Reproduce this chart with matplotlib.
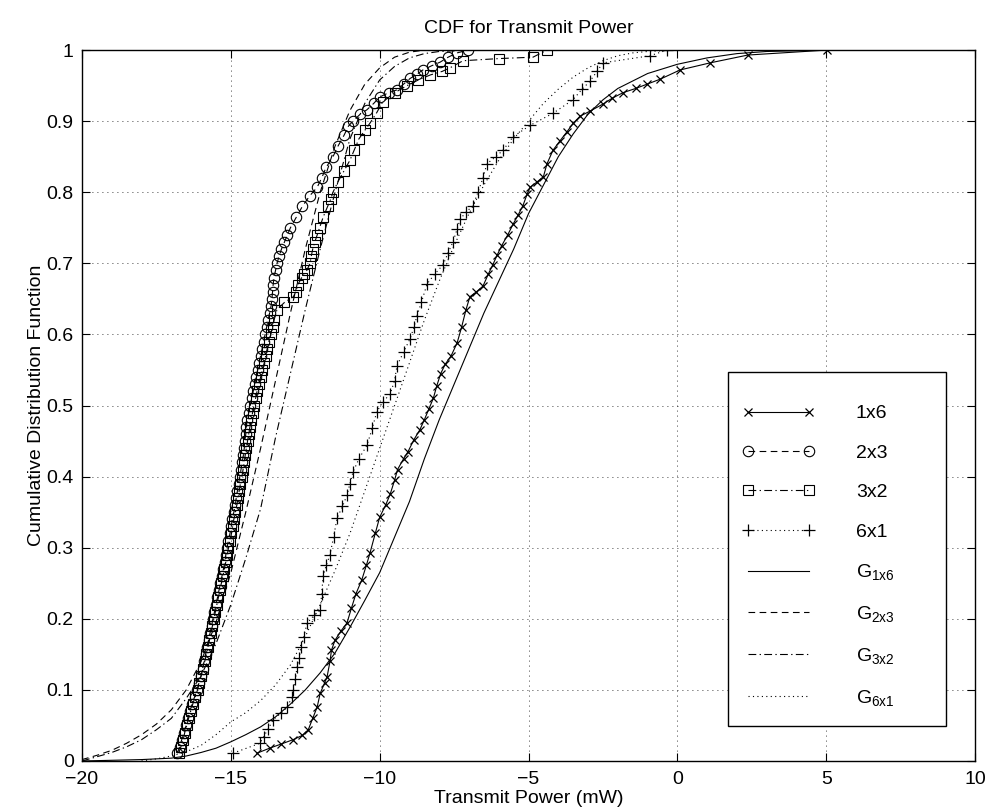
import matplotlib
matplotlib.use("Agg")
import matplotlib.pyplot as plt
from matplotlib.patches import Rectangle

plt.rcParams['font.family'] = ['Liberation Sans', 'DejaVu Sans']
plt.rcParams['mathtext.default'] = 'regular'

# ---------------- data ----------------
x_1x6 = [-14.12, -13.7, -13.3, -12.91, -12.6, -12.4, -12.25, -12.1, -12.0, -11.85,
         -11.77, -11.67, -11.62, -11.5, -11.3, -11.1, -10.95, -10.8, -10.6, -10.45,
         -10.33, -10.15, -10.0, -9.8, -9.65, -9.5, -9.4, -9.2, -9.05, -8.85,
         -8.65, -8.5, -8.35, -8.2, -8.08, -7.95, -7.8, -7.6, -7.4, -7.25,
         -7.1, -6.97, -6.75, -6.53, -6.35, -6.2, -6.05, -5.9, -5.7, -5.52,
         -5.35, -5.19, -5.05, -4.95, -4.7, -4.5, -4.38, -4.18, -3.95, -3.71,
         -3.5, -3.27, -2.94, -2.5, -2.2, -1.83, -1.4, -1.02, -0.58, 0.09,
         1.1, 2.37, 5.03]
y_1x6 = [0.011, 0.018, 0.024, 0.030, 0.036, 0.044, 0.060, 0.076, 0.095, 0.110,
         0.118, 0.140, 0.156, 0.170, 0.183, 0.194, 0.215, 0.235, 0.255, 0.275,
         0.292, 0.320, 0.343, 0.360, 0.375, 0.395, 0.410, 0.425, 0.435, 0.452,
         0.466, 0.480, 0.495, 0.510, 0.528, 0.545, 0.558, 0.570, 0.588, 0.610,
         0.635, 0.653, 0.660, 0.668, 0.685, 0.698, 0.712, 0.725, 0.740, 0.755,
         0.768, 0.781, 0.797, 0.807, 0.815, 0.822, 0.840, 0.859, 0.872, 0.885,
         0.897, 0.907, 0.914, 0.924, 0.932, 0.940, 0.946, 0.952, 0.959, 0.972,
         0.982, 0.993, 1.000]

x_2x3 = [-16.8, -16.72, -16.65, -16.58, -16.5, -16.45, -16.38, -16.3, -16.22, -16.14,
         -16.07, -16.0, -15.95, -15.9, -15.85, -15.8, -15.75, -15.7, -15.65, -15.6,
         -15.55, -15.5, -15.45, -15.4, -15.35, -15.3, -15.25, -15.2, -15.17, -15.13,
         -15.08, -15.03, -14.99, -14.95, -14.9, -14.85, -14.82, -14.78, -14.74, -14.7,
         -14.66, -14.62, -14.58, -14.55, -14.53, -14.5, -14.48, -14.45, -14.4, -14.35,
         -14.3, -14.25, -14.2, -14.15, -14.1, -14.05, -14.0, -13.95, -13.9, -13.85,
         -13.8, -13.75, -13.7, -13.65, -13.62, -13.6, -13.58, -13.55, -13.5, -13.45,
         -13.38, -13.3, -13.2, -13.1, -13.0, -12.8, -12.6, -12.35, -12.1, -11.95,
         -11.8, -11.57, -11.4, -11.2, -11.05, -10.9, -10.65, -10.43, -10.2, -10.0,
         -9.7, -9.42, -9.2, -8.98, -8.75, -8.55, -8.25, -7.97, -7.7, -7.4,
         -7.03]
y_2x3 = [0.011, 0.020, 0.030, 0.040, 0.050, 0.060, 0.070, 0.080, 0.090, 0.100,
         0.110, 0.120, 0.130, 0.140, 0.150, 0.160, 0.170, 0.180, 0.190, 0.200,
         0.210, 0.220, 0.230, 0.240, 0.250, 0.260, 0.270, 0.280, 0.290, 0.300,
         0.310, 0.320, 0.330, 0.340, 0.350, 0.360, 0.370, 0.380, 0.390, 0.400,
         0.410, 0.420, 0.430, 0.440, 0.450, 0.460, 0.470, 0.480, 0.490, 0.500,
         0.510, 0.520, 0.530, 0.540, 0.550, 0.560, 0.570, 0.580, 0.590, 0.600,
         0.610, 0.620, 0.630, 0.640, 0.650, 0.660, 0.670, 0.680, 0.690, 0.700,
         0.710, 0.720, 0.730, 0.740, 0.750, 0.765, 0.780, 0.795, 0.807, 0.820,
         0.835, 0.850, 0.865, 0.880, 0.893, 0.900, 0.910, 0.916, 0.925, 0.934,
         0.940, 0.944, 0.952, 0.960, 0.966, 0.972, 0.978, 0.983, 0.990, 0.996,
         1.000]

x_3x2 = [-16.75, -16.68, -16.6, -16.55, -16.48, -16.42, -16.35, -16.28, -16.2, -16.12,
         -16.06, -16.0, -15.94, -15.88, -15.82, -15.77, -15.72, -15.67, -15.62, -15.57,
         -15.52, -15.47, -15.42, -15.37, -15.32, -15.27, -15.22, -15.17, -15.12, -15.08,
         -15.03, -14.98, -14.94, -14.9, -14.85, -14.8, -14.76, -14.72, -14.68, -14.63,
         -14.59, -14.55, -14.52, -14.48, -14.44, -14.4, -14.36, -14.32, -14.27, -14.22,
         -14.17, -14.12, -14.06, -14.0, -13.94, -13.88, -13.83, -13.78, -13.72, -13.66,
         -13.6, -13.55, -13.45, -13.2, -12.9, -12.82, -12.75, -12.62, -12.55, -12.45,
         -12.34, -12.3, -12.25, -12.18, -12.1, -12.02, -11.9, -11.75, -11.65, -11.57,
         -11.4, -11.2, -11.0, -10.85, -10.7, -10.5, -10.33, -10.1, -9.9, -9.5,
         -9.08, -8.7, -8.3, -7.9, -7.64, -7.2, -6.0, -4.85, -4.38]
y_3x2 = [0.011, 0.020, 0.030, 0.040, 0.050, 0.060, 0.070, 0.080, 0.090, 0.100,
         0.110, 0.120, 0.130, 0.140, 0.150, 0.160, 0.170, 0.180, 0.190, 0.200,
         0.210, 0.220, 0.230, 0.240, 0.250, 0.260, 0.270, 0.280, 0.290, 0.300,
         0.310, 0.320, 0.330, 0.340, 0.350, 0.360, 0.370, 0.380, 0.390, 0.400,
         0.410, 0.420, 0.430, 0.440, 0.450, 0.460, 0.470, 0.480, 0.490, 0.500,
         0.510, 0.520, 0.530, 0.540, 0.550, 0.560, 0.570, 0.580, 0.590, 0.600,
         0.610, 0.620, 0.635, 0.645, 0.653, 0.660, 0.670, 0.680, 0.685, 0.690,
         0.700, 0.710, 0.720, 0.730, 0.740, 0.750, 0.765, 0.780, 0.790, 0.800,
         0.815, 0.830, 0.845, 0.860, 0.875, 0.887, 0.897, 0.912, 0.927, 0.940,
         0.950, 0.958, 0.965, 0.970, 0.975, 0.985, 0.988, 0.990, 1.000]

x_6x1 = [-14.93, -14.02, -13.9, -13.75, -13.58, -13.3, -13.1, -12.95, -12.9, -12.83,
         -12.78, -12.7, -12.65, -12.55, -12.44, -12.2, -12.0, -11.95, -11.9, -11.8,
         -11.67, -11.55, -11.43, -11.25, -11.1, -11.0, -10.9, -10.7, -10.43, -10.25,
         -10.1, -9.9, -9.65, -9.5, -9.42, -9.2, -8.98, -8.85, -8.75, -8.6,
         -8.41, -8.15, -7.87, -7.7, -7.54, -7.4, -7.3, -7.1, -6.87, -6.7,
         -6.53, -6.4, -6.1, -5.86, -5.52, -4.95, -4.18, -3.51, -3.2, -2.94,
         -2.7, -2.5, -0.92, -0.35]
y_6x1 = [0.011, 0.025, 0.034, 0.045, 0.058, 0.068, 0.076, 0.090, 0.100, 0.115,
         0.132, 0.145, 0.160, 0.175, 0.194, 0.205, 0.212, 0.235, 0.260, 0.275,
         0.290, 0.315, 0.342, 0.358, 0.374, 0.390, 0.406, 0.425, 0.444, 0.468,
         0.491, 0.505, 0.516, 0.535, 0.556, 0.575, 0.594, 0.610, 0.626, 0.645,
         0.671, 0.685, 0.698, 0.715, 0.730, 0.748, 0.762, 0.772, 0.781, 0.800,
         0.820, 0.840, 0.850, 0.859, 0.878, 0.894, 0.911, 0.930, 0.945, 0.956,
         0.970, 0.982, 0.992, 1.000]

gx_1x6 = [-20, -19, -18, -17, -16.5, -16, -15.5, -15, -14.5, -14, -13.5, -13, -12.5,
          -12, -11.5, -11, -10.5, -10, -9.5, -9, -8.5, -8, -7.5, -7, -6.5, -6,
          -5.5, -5, -4.5, -4, -3.5, -3, -2.5, -2, -1, 0, 1, 2, 3, 5]
gy_1x6 = [0.000, 0.001, 0.002, 0.004, 0.007, 0.012, 0.018, 0.027, 0.037, 0.048,
          0.062, 0.080, 0.100, 0.124, 0.152, 0.188, 0.226, 0.265, 0.315, 0.365,
          0.425, 0.480, 0.530, 0.580, 0.630, 0.675, 0.720, 0.770, 0.810, 0.850,
          0.882, 0.910, 0.930, 0.946, 0.967, 0.980, 0.989, 0.995, 0.998, 1.000]

gx_2x3 = [-20, -19.5, -19, -18.5, -18, -17.5, -17, -16.5, -16, -15.5, -15, -14.5,
          -14, -13.5, -13, -12.5, -12, -11.5, -11, -10.5, -10, -9.5, -9, -8.5]
gy_2x3 = [0.002, 0.008, 0.015, 0.025, 0.037, 0.052, 0.072, 0.100, 0.140, 0.195,
          0.265, 0.350, 0.440, 0.535, 0.630, 0.720, 0.800, 0.865, 0.915, 0.952,
          0.975, 0.990, 0.997, 1.000]

gx_3x2 = [-20, -19.5, -19, -18.5, -18, -17.5, -17, -16.5, -16, -15.5, -15, -14.5,
          -14, -13.5, -13, -12.5, -12, -11.5, -11, -10.5, -10, -9.5, -9, -8.5, -8, -7]
gy_3x2 = [0.000, 0.006, 0.012, 0.020, 0.030, 0.044, 0.060, 0.088, 0.120, 0.165,
          0.220, 0.285, 0.355, 0.455, 0.545, 0.635, 0.720, 0.800, 0.875, 0.925,
          0.958, 0.977, 0.989, 0.995, 0.998, 1.000]

gx_6x1 = [-18, -17.5, -17, -16.5, -16, -15.5, -15, -14.5, -14, -13.5, -13, -12.5,
          -12, -11.5, -11, -10.5, -10, -9.5, -9, -8.5, -8, -7.5, -7, -6.5, -6,
          -5.5, -5, -4.5, -4, -3.5, -3, -2.5, -2, -1.5, -1, 0]
gy_6x1 = [0.000, 0.003, 0.007, 0.013, 0.022, 0.037, 0.055, 0.068, 0.085, 0.107,
          0.135, 0.175, 0.220, 0.268, 0.320, 0.380, 0.440, 0.500, 0.560, 0.620,
          0.675, 0.725, 0.770, 0.810, 0.845, 0.875, 0.900, 0.925, 0.945, 0.962,
          0.975, 0.985, 0.992, 0.996, 0.998, 1.000]

labels = ['1x6', '2x3', '3x2', '6x1',
          r'G$_{1x6}$', r'G$_{2x3}$', r'G$_{3x2}$', r'G$_{6x1}$']
xticks = [-20, -15, -10, -5, 0, 5, 10]
yticks = [0, 0.1, 0.2, 0.3, 0.4, 0.5, 0.6, 0.7, 0.8, 0.9, 1]
yticklabels = ['0', '0.1', '0.2', '0.3', '0.4', '0.5', '0.6', '0.7', '0.8', '0.9', '1']

# ---------------- figure ----------------
FS = 14
fig = plt.figure(figsize=(9.98, 8.10), dpi=100)
ax = fig.add_axes([0.0822, 0.0605, 0.8948, 0.8777])

lw = 0.8
dash = (0, (6, 4))
dashdot = (0, (7, 3, 1.2, 3))
dot = (0, (1, 3))

ax.plot(x_1x6, y_1x6, color='k', lw=lw, ls='-', marker='x', ms=6, mew=0.9, label=labels[0])
ax.plot(x_2x3, y_2x3, color='k', lw=lw, ls=dash, marker='o', ms=7.5, mfc='none', mew=0.8, label=labels[1])
ax.plot(x_3x2, y_3x2, color='k', lw=lw, ls=dashdot, marker='s', ms=7, mfc='none', mew=0.8, label=labels[2])
ax.plot(x_6x1, y_6x1, color='k', lw=lw, ls=dot, marker='+', ms=9, mew=0.9, label=labels[3])
ax.plot(gx_1x6, gy_1x6, color='k', lw=lw, ls='-', label=labels[4])
ax.plot(gx_2x3, gy_2x3, color='k', lw=lw, ls=dash, label=labels[5])
ax.plot(gx_3x2, gy_3x2, color='k', lw=lw, ls=dashdot, label=labels[6])
ax.plot(gx_6x1, gy_6x1, color='k', lw=lw, ls=dot, label=labels[7])

ax.set_xlim(-20, 10)
ax.set_ylim(0, 1)
ax.set_xticks(xticks)
ax.set_xticklabels([('\u2212%d' % -t) if t < 0 else str(t) for t in xticks])
ax.set_yticks(yticks)
ax.set_yticklabels(yticklabels)
ax.tick_params(axis='x', pad=7)
ax.tick_params(axis='y', pad=6)
ax.tick_params(direction='in', top=True, right=True, length=6, width=0.8,
               labelsize=FS, colors='k')
for s in ax.spines.values():
    s.set_linewidth(1.0)
    s.set_color('k')
ax.grid(True, color='k', ls=(0, (1, 5)), lw=0.6)

ax.set_title('CDF for Transmit Power', fontsize=FS, pad=12)
ax.set_xlabel('Transmit Power (mW)', fontsize=FS, labelpad=2)
ax.set_ylabel('Cumulative Distribution Function', fontsize=FS, labelpad=1)

# legend box (drawn as a frame) plus frameless legend entries inside it
box = Rectangle((0.7234, 0.049), 0.2441, 0.498, transform=ax.transAxes,
                facecolor='white', edgecolor='k', lw=1.0, zorder=5)
ax.add_patch(box)
leg = ax.legend(loc='upper left', bbox_to_anchor=(0.739, 0.501),
                numpoints=2, fontsize=FS, frameon=False,
                handlelength=3.76, handletextpad=2.1,
                labelspacing=1.12, borderpad=0, borderaxespad=0)
leg.set_zorder(6)

fig.savefig('out.png', dpi=100)
